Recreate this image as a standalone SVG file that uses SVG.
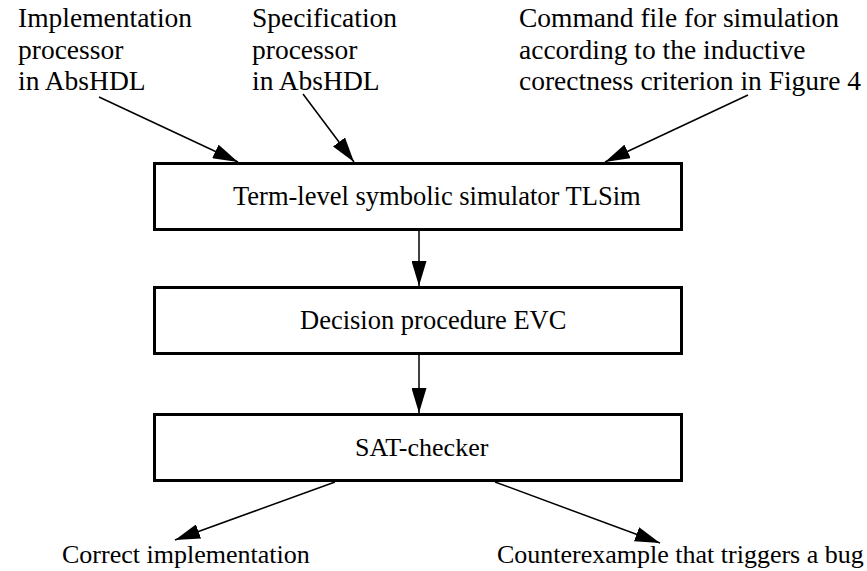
<svg xmlns="http://www.w3.org/2000/svg" width="867" height="571" viewBox="0 0 867 571">
<style>
.box{fill:#fff;stroke:#000;stroke-width:3}
.t{font-family:"Liberation Serif","Times New Roman","DejaVu Serif",serif;font-size:26px;fill:#000}
.b{font-size:26.5px}
.top{font-size:27.5px}
.c{fill:none;stroke:#000;stroke-width:1.5}
</style>
<defs>
<marker id="ah" markerUnits="userSpaceOnUse" markerWidth="25" markerHeight="15" refX="25" refY="7.5" orient="auto" viewBox="0 0 25 15">
<path d="M0,0 L25,7.5 L0,15 z" fill="#000"/>
</marker>
</defs>
<rect width="867" height="571" fill="#fff"/>
<g id="in-impl">
<text class="t top" x="18" y="27">Implementation</text>
<text class="t top" x="18" y="59">processor</text>
<text class="t top" x="18" y="90">in AbsHDL</text>
</g>
<g id="in-spec">
<text class="t top" x="252" y="27">Specification</text>
<text class="t top" x="252" y="59">processor</text>
<text class="t top" x="252" y="90">in AbsHDL</text>
</g>
<g id="in-cmd">
<text class="t top" x="519" y="27">Command file for simulation</text>
<text class="t top" x="519" y="59">according to the inductive</text>
<text class="t top" x="519" y="90">corectness criterion in Figure 4</text>
</g>
<g id="tlsim">
<rect class="box" x="154.5" y="163.5" width="527" height="66"/>
<text class="t b" x="233" y="205">Term-level symbolic simulator TLSim</text>
</g>
<g id="evc">
<rect class="box" x="154.5" y="287.5" width="527" height="66"/>
<text class="t b" x="300" y="329">Decision procedure EVC</text>
</g>
<g id="sat">
<rect class="box" x="154.5" y="414.5" width="527" height="66"/>
<text class="t" x="355" y="456">SAT-checker</text>
</g>
<g id="out-correct">
<text class="t" x="62" y="563">Correct implementation</text>
</g>
<g id="out-bug">
<text class="t" x="497" y="563">Counterexample that triggers a bug</text>
</g>
<g id="connectors">
<line class="c" x1="99" y1="97" x2="238" y2="162" marker-end="url(#ah)"/>
<line class="c" x1="303" y1="94" x2="354" y2="162" marker-end="url(#ah)"/>
<line class="c" x1="748" y1="95" x2="605" y2="162" marker-end="url(#ah)"/>
<line class="c" x1="419" y1="231" x2="419" y2="286" marker-end="url(#ah)"/>
<line class="c" x1="419" y1="355" x2="419" y2="413" marker-end="url(#ah)"/>
<line class="c" x1="335" y1="482" x2="175" y2="540" marker-end="url(#ah)"/>
<line class="c" x1="495" y1="482" x2="660" y2="543" marker-end="url(#ah)"/>
</g>
</svg>
